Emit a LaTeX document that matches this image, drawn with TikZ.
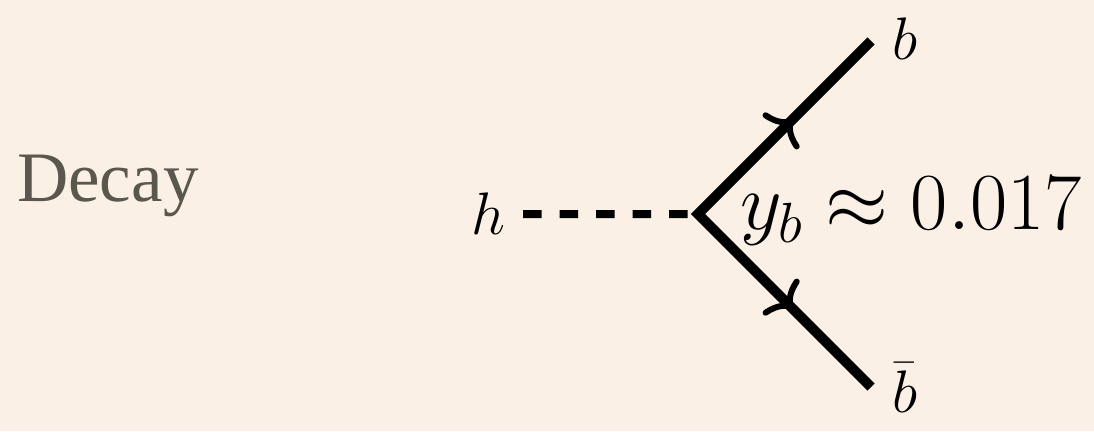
\RequirePackage{fix-cm}
\documentclass[tikz,border=0pt]{standalone}
\usepackage[no-math]{fontspec}
\usepackage{xcolor}
\newfontfamily\titlefont{Liberation Serif}
\usetikzlibrary{positioning, arrows.meta, decorations.markings}
\definecolor{paper}{RGB}{251,240,230}
\definecolor{slate}{RGB}{90,88,78}
\tikzset{
  higgs/.style={line width=8pt, dash pattern=on 18.5pt off 18pt, shorten <=17pt},
  fermion/.style={line width=10pt, line join=miter,
                  postaction={decorate},
                  decoration={markings,
                    mark=at position 0.225 with {\arrowreversed{Computer Modern Rightarrow[length=20pt, width=50pt, line width=6pt]}},
                    mark=at position 0.775 with {\arrow{Computer Modern Rightarrow[length=20pt, width=50pt, line width=6pt]}}}},
  partlabel/.style={inner sep=0pt, font=\fontsize{60}{72}\selectfont},
  couplabel/.style={inner sep=0pt, font=\fontsize{81}{96}\selectfont},
  titlelabel/.style={inner sep=0pt, text=slate, font=\titlefont\fontsize{71}{84}\selectfont},
}
\begin{document}
\begin{tikzpicture}[x=1pt, y=1pt]

  \fill[paper] (0,0) rectangle (1094,431);
  \useasboundingbox (0,0) rectangle (1094,431);

  \node[titlelabel, anchor=base west] (title) at (17,229) {Decay};

  \coordinate (v)  at (698,217);
  \coordinate (bt) at (871,390);
  \coordinate (bb) at (871,44);

  \node[partlabel, anchor=base east] (h) at (506,196) {$h$};
  \node[partlabel, anchor=base west] (b) at (892,371) {$b$};
  \node[partlabel, anchor=base west] (bbar) at (892,19) {$\bar{b}$};
  \node[couplabel, anchor=base west] (yb) at (740,201) {$y_b \approx 0.017$};

  \draw[higgs]   (h)  -- (v);
  \draw[fermion] (bt) -- (v) -- (bb);

\end{tikzpicture}
\end{document}
